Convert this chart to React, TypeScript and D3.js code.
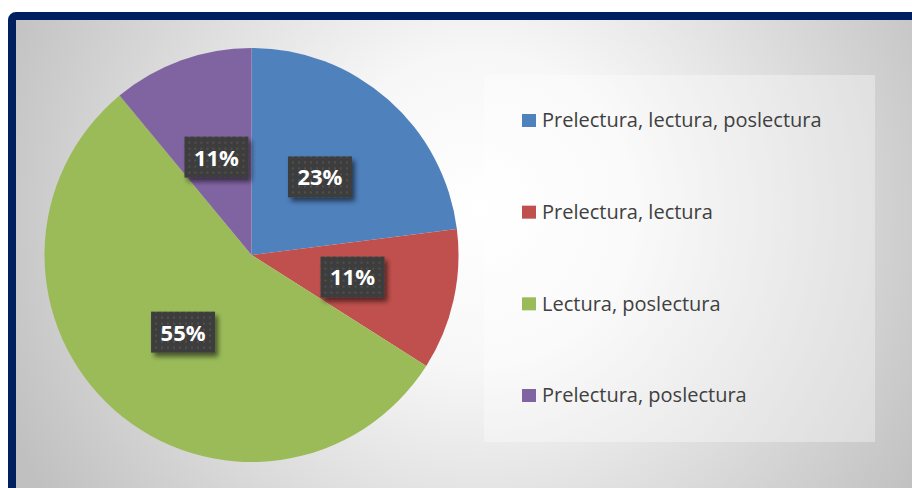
import React from "react";
import * as d3 from "d3";

const categories = [
  "Prelectura, lectura, poslectura",
  "Prelectura, lectura",
  "Lectura, poslectura",
  "Prelectura, poslectura",
];
const values = [23, 11, 55, 11];
const labels = ["23%", "11%", "55%", "11%"];
const colors = ["#4f81bd", "#c0504d", "#9bbb59", "#8064a2"];

const W = 912;
const H = 488;

export default function App() {
  const cx = 251.5;
  const cy = 255;
  const r = 207;
  const pie = d3.pie<number>().value((d) => d).sort(null);
  const arcs = pie(values);
  const arc = d3.arc<d3.PieArcDatum<number>>().innerRadius(0).outerRadius(r);
  const labelArc = d3.arc<d3.PieArcDatum<number>>().innerRadius(r * 0.5).outerRadius(r * 0.5);

  const legendY = d3.scalePoint<number>().domain(d3.range(categories.length)).range([120, 395]);

  return (
    <svg width={W} height={H} style={{ position: "absolute", left: 0, top: 0 }}>
      <defs>
        <radialGradient id="bg" gradientUnits="userSpaceOnUse" cx={480} cy={210} r={520}>
          <stop offset="0" stopColor="#ffffff" />
          <stop offset="0.3" stopColor="#f7f7f7" />
          <stop offset="1" stopColor="#c0c0c0" />
        </radialGradient>
        <pattern id="dots" width={6} height={6} patternUnits="userSpaceOnUse">
          <rect width={6} height={6} fill="#3d3d3d" />
          <rect x={2} y={2} width={2} height={2} fill="#505050" />
        </pattern>
        <filter id="shadow" x="-30%" y="-30%" width="160%" height="180%">
          <feGaussianBlur in="SourceAlpha" stdDeviation="2.5" />
          <feOffset dx="3" dy="4" result="b" />
          <feComponentTransfer>
            <feFuncA type="linear" slope="0.55" />
          </feComponentTransfer>
          <feMerge>
            <feMergeNode />
            <feMergeNode in="SourceGraphic" />
          </feMerge>
        </filter>
      </defs>
      <rect x={0} y={0} width={W} height={H} fill="#ffffff" />
      <rect x={12} y={16} width={W + 20} height={H + 20} rx={4} fill="url(#bg)" stroke="#001f5f" strokeWidth={8} />
      <g transform={`translate(${cx},${cy})`}>
        {arcs.map((a, i) => (
          <path key={i} d={arc(a) || ""} fill={colors[i]} />
        ))}
      </g>
      <rect x={484} y={75} width={391} height={367} fill="#ffffff" fillOpacity={0.35} />
      {categories.map((c, i) => (
        <g key={c} transform={`translate(522,${legendY(i)})`}>
          <rect x={0} y={-6} width={14} height={13} fill={colors[i]} />
          <text x={20} y={0} dy="0.36em" fontFamily="'Open Sans', sans-serif" fontSize={20} fill="#404040">
            {c}
          </text>
        </g>
      ))}
      {arcs.map((a, i) => {
        const c = labelArc.centroid(a);
        const x = cx + c[0];
        const y = cy + c[1];
        return (
          <g key={"l" + i} transform={`translate(${x},${y})`}>
            <rect x={-32} y={-21} width={64} height={41} fill="url(#dots)" filter="url(#shadow)" />
            <text x={0} y={0} dy="0.36em" textAnchor="middle" fontFamily="'Open Sans', sans-serif" fontWeight="bold" fontSize={22} fill="#ffffff">
              {labels[i]}
            </text>
          </g>
        );
      })}
    </svg>
  );
}
